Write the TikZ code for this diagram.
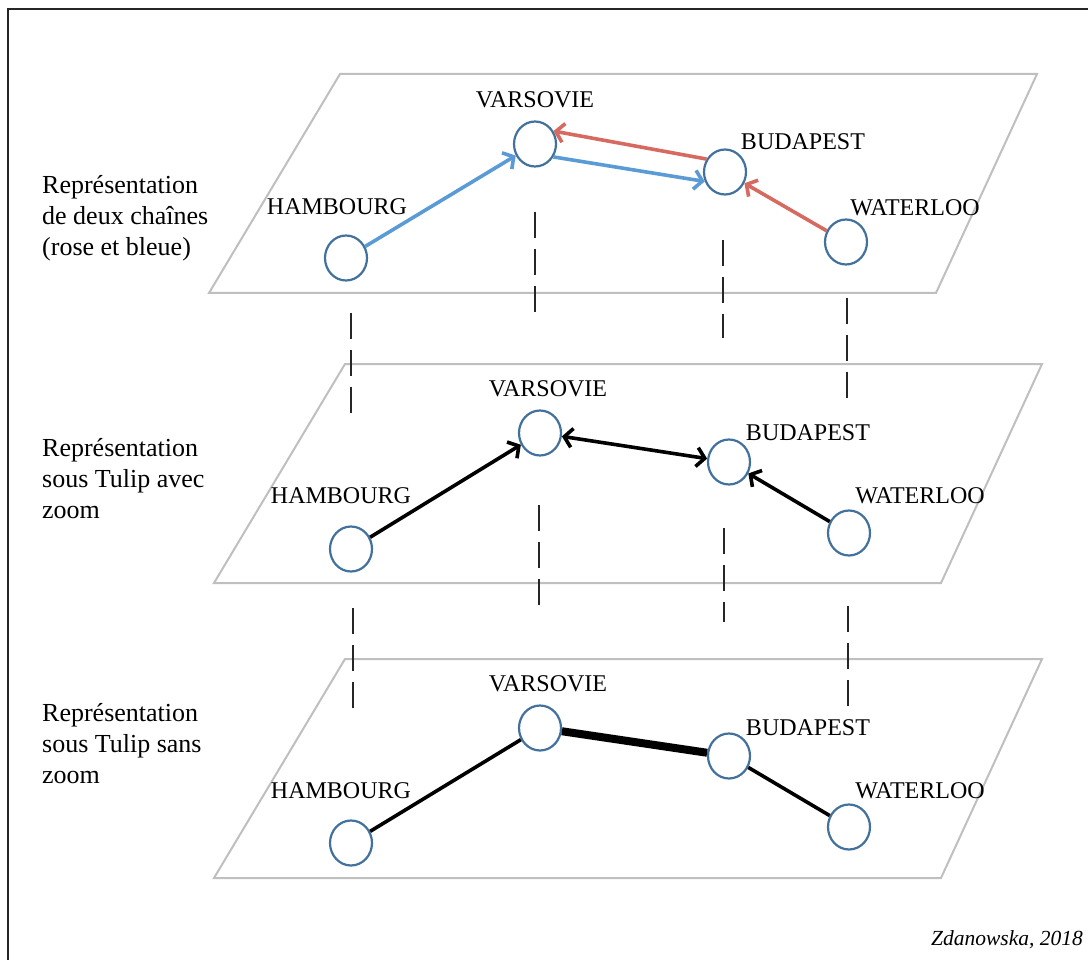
\documentclass[tikz,border=0pt]{standalone}
\usepackage{fontspec}
\setmainfont{Liberation Serif}
\usetikzlibrary{shapes.geometric, positioning, arrows.meta}
\definecolor{nodeblue}{RGB}{65,113,156}
\definecolor{chainblue}{RGB}{91,155,213}
\definecolor{chainrose}{RGB}{214,106,96}
\definecolor{planegray}{RGB}{191,191,191}
\tikzset{
  city/.style={ellipse, minimum width=42pt, minimum height=45pt, inner sep=0pt, draw=nodeblue, line width=2.2pt, fill=white},
  citylabel/.style={inner sep=0pt, font=\fontsize{24}{28}\selectfont},
  legend/.style={inner sep=0pt, align=left, anchor=north west, font=\fontsize{26}{31}\selectfont},
  plane/.style={draw=planegray, line width=2pt},
  guide/.style={draw=black!85, line width=2.5pt, dash pattern=on 26pt off 11pt},
  link/.style={black, line width=3.6pt},
  barb/.tip={Straight Barb[length=8pt,width=19pt]},
  arrow/.style={link, -barb},
  bluearrow/.style={arrow, chainblue},
  rosearrow/.style={arrow, chainrose}
}
\begin{document}
\begin{tikzpicture}[x=1pt, y=-1pt]
  \useasboundingbox (0,0) rectangle (1088,960);
  \draw[black!85, line width=1.6pt] (8,962) -- (8,9) -- (1090,9);

  % plans
  \draw[plane] (340,74) -- (1037,74) -- (936,293) -- (209,293) -- cycle;
  \draw[plane] (345,364) -- (1042,364) -- (941,583) -- (214,583) -- cycle;
  \draw[plane] (345,659) -- (1042,659) -- (941,878) -- (214,878) -- cycle;

  % verticales entre les plans
  \draw[guide] (351,313) -- (351,415);
  \draw[guide] (353,608) -- (353,710);
  \draw[guide] (535,212) -- (535,318);
  \draw[guide] (723,240) -- (723,338);
  \draw[guide] (847,298) -- (847,400);
  \draw[guide] (539,505) -- (539,605);
  \draw[guide] (724,528) -- (724,622);
  \draw[guide] (848,606) -- (848,710);

  % plan 1 : deux chaines
  \node[city] (h1) at (346,258) {};
  \node[city] (v1) at (535,144) {};
  \node[city] (b1) at (725,172) {};
  \node[city] (w1) at (846,242) {};
  \node[citylabel, above=19.5pt of h1, xshift=-9pt] (lh1) {HAMBOURG};
  \node[citylabel, above=12.5pt of v1] (lv1) {VARSOVIE};
  \node[citylabel, above=-1.5pt of b1, xshift=78pt] (lb1) {BUDAPEST};
  \node[citylabel, above=2.5pt of w1, xshift=69pt] (lw1) {WATERLOO};
  \node[legend] (t1) at (42,175) {Représentation\\de deux chaînes\\(rose et bleue)};

  \draw[bluearrow] (h1) -- (v1);
  \draw[bluearrow] (v1.-35) -- (b1.205);
  \draw[rosearrow] (b1.145) -- (v1.35);
  \draw[rosearrow] (w1) -- (b1);

  % plan 2 : Tulip avec zoom
  \node[city] (h2) at (351,549) {};
  \node[city] (v2) at (540,433) {};
  \node[city] (b2) at (729,462) {};
  \node[city] (w2) at (849,533) {};
  \node[citylabel, above=21.5pt of h2, xshift=-10pt] (lh2) {HAMBOURG};
  \node[citylabel, above=12.5pt of v2, xshift=8pt] (lv2) {VARSOVIE};
  \node[citylabel, above=-2.5pt of b2, xshift=79pt] (lb2) {BUDAPEST};
  \node[citylabel, above=5.5pt of w2, xshift=71pt] (lw2) {WATERLOO};
  \node[legend] (t2) at (42,438) {Représentation\\sous Tulip avec\\zoom};

  \draw[arrow] (h2) -- (v2);
  \draw[link, barb-barb] (v2) -- (b2);
  \draw[arrow] (w2) -- (b2);

  % plan 3 : Tulip sans zoom
  \node[city] (h3) at (351,843) {};
  \node[city] (v3) at (540,728) {};
  \node[city] (b3) at (729,756) {};
  \node[city] (w3) at (849,827) {};
  \node[citylabel, above=20.5pt of h3, xshift=-10pt] (lh3) {HAMBOURG};
  \node[citylabel, above=12.5pt of v3, xshift=8pt] (lv3) {VARSOVIE};
  \node[citylabel, above=-3.5pt of b3, xshift=79pt] (lb3) {BUDAPEST};
  \node[citylabel, above=4.5pt of w3, xshift=71pt] (lw3) {WATERLOO};
  \node[legend] (t3) at (42,703) {Représentation\\sous Tulip sans\\zoom};

  \draw[link] (h3) -- (v3);
  \draw[link, line width=8pt] (v3) -- (b3);
  \draw[link] (b3) -- (w3);

  \node[anchor=base east, inner sep=0pt, font=\fontsize{21.5}{25}\selectfont\itshape] (src) at (1083,945) {Zdanowska, 2018};
\end{tikzpicture}
\end{document}
